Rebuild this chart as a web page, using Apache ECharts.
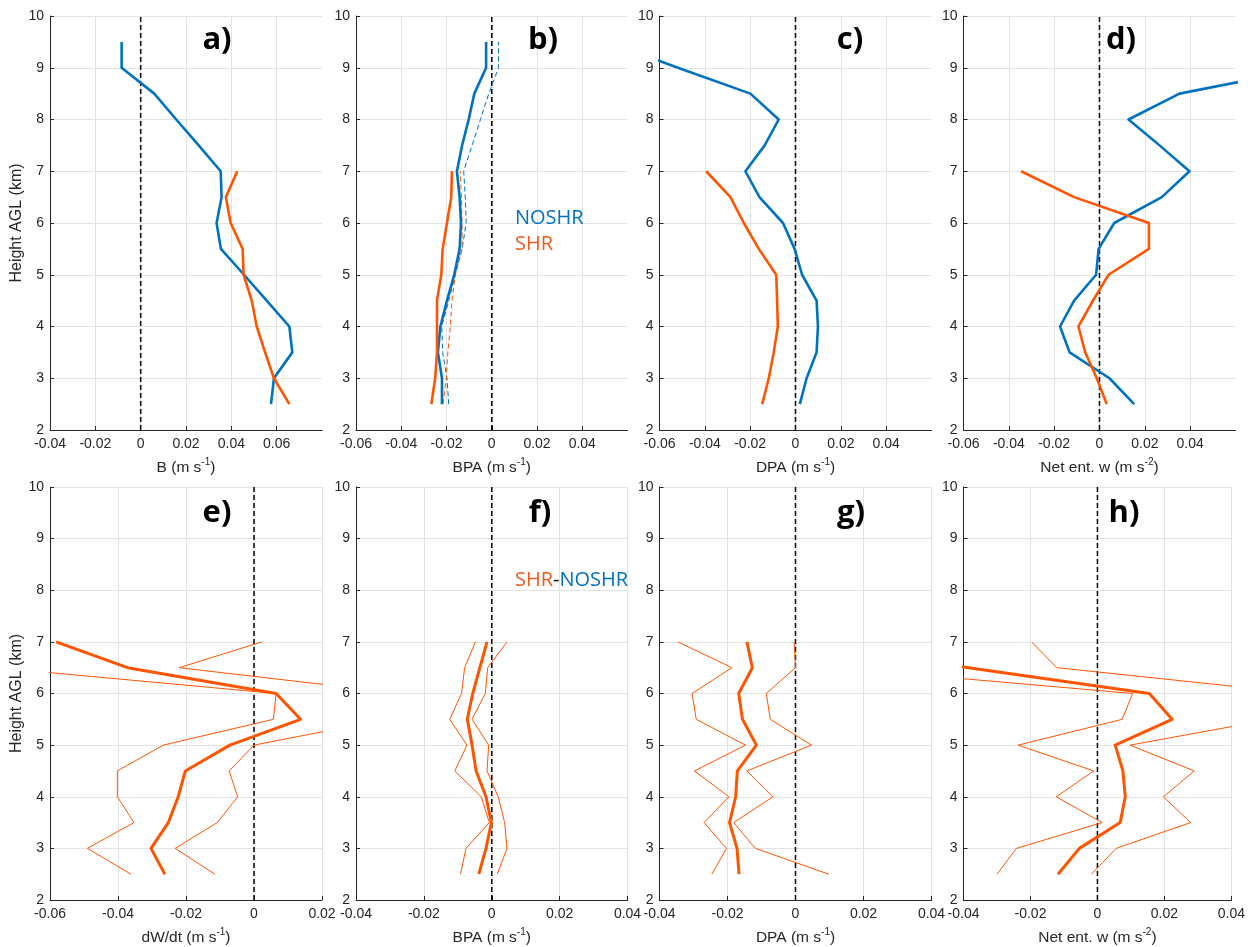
<!DOCTYPE html>
<html><head><meta charset="utf-8">
<script src="https://cdn.jsdelivr.net/npm/echarts@6/dist/echarts.min.js"></script>
<style>html,body{margin:0;padding:0;background:#fff}#c{width:1248px;height:947px}</style>
</head><body><div id="c"></div>
<script>
// Heights (km AGL), bottom to top
const heights = [2.5,3,3.5,4,4.5,5,5.5,6,6.5,7,7.5,8,8.5,9,9.5];
const yTicks = [2,3,4,5,6,7,8,9,10];

// a) Buoyancy B (m s-1)
const bNoshr = [0.0575,0.0588,0.0669,0.0656,0.0556,0.0456,0.0354,0.0335,0.0357,0.0353,0.0256,0.0157,0.006,-0.0084,-0.0084];
const bShr   = [0.0656,0.0588,0.0549,0.0512,0.049,0.0454,0.045,0.0397,0.0376,0.0426];
// b) BPA
const bpaNoshr     = [-0.022,-0.022,-0.0238,-0.0227,-0.0198,-0.0166,-0.0142,-0.0136,-0.0142,-0.0154,-0.0131,-0.0102,-0.0077,-0.0025,-0.0025];
const bpaNoshrDash = [-0.019,-0.0198,-0.0217,-0.0221,-0.019,-0.0161,-0.0131,-0.0113,-0.0117,-0.0124,-0.0087,-0.005,-0.0013,0.003,0.003];
const bpaShr       = [-0.0267,-0.025,-0.0242,-0.0242,-0.0242,-0.0223,-0.0217,-0.0198,-0.0179,-0.0176];
const bpaShrDash   = [-0.0216,-0.0201,-0.0194,-0.0183,-0.0176,-0.0161,-0.0131,-0.0131,-0.0134,-0.0139];
// c) DPA
const dpaNoshr = [0.0019,0.0049,0.0093,0.0099,0.0093,0.0029,-0.0004,-0.0055,-0.0159,-0.0221,-0.0136,-0.0074,-0.0199,-0.0519,-0.083];
const dpaShr   = [-0.0147,-0.0118,-0.0096,-0.0078,-0.0081,-0.0085,-0.0162,-0.0228,-0.0287,-0.0394];
// d) Net entrainment w
const netNoshr = [0.0153,0.0044,-0.0132,-0.0174,-0.0112,-0.0015,-0.0004,0.0065,0.0275,0.0397,0.0265,0.0128,0.0353,0.093,0.085];
const netShr   = [0.0032,-0.0012,-0.0063,-0.0093,-0.0029,0.004,0.0218,0.0218,-0.0112,-0.0346];
// e) dW/dt difference SHR-NOSHR (mean and bounds)
const dwMean  = [-0.0262,-0.0303,-0.0252,-0.0223,-0.0202,-0.0071,0.0137,0.0065,-0.0372,-0.0582];
const dwUpper = [-0.0115,-0.0232,-0.0108,-0.0048,-0.0073,0.0,0.0388,0.0433,-0.022,0.0023];
const dwLower = [-0.0362,-0.049,-0.0353,-0.0402,-0.0402,-0.0267,0.0057,0.0065,-0.0758,-0.1];
// f) BPA difference
const fMean  = [-0.0038,-0.0017,-0.0001,-0.0017,-0.0046,-0.0058,-0.0072,-0.0056,-0.0035,-0.0014];
const fLower = [-0.0092,-0.0076,-0.0007,-0.0031,-0.0109,-0.0073,-0.0124,-0.0089,-0.008,-0.0048];
const fUpper = [0.0016,0.0045,0.0038,0.0019,-0.0014,-0.0009,-0.0058,-0.0019,-0.0012,0.0045];
// g) DPA difference
const gMean  = [-0.0166,-0.0172,-0.0194,-0.0176,-0.0171,-0.0115,-0.0156,-0.0167,-0.0127,-0.0143];
const gLower = [-0.0246,-0.0203,-0.0269,-0.0196,-0.0297,-0.0147,-0.0292,-0.0304,-0.0187,-0.0346];
const gUpper = [0.0098,-0.0118,-0.0182,-0.0066,-0.0143,0.0047,-0.0074,-0.0086,0.0,-0.0004];
// h) Net ent. w difference
const hMean = [-0.0118,-0.0054,0.0068,0.0083,0.0076,0.0053,0.0223,0.0155,-0.0385,-0.09];
const hA    = [-0.0018,0.0056,0.0278,0.0197,0.0289,0.0097,0.052,0.061,-0.0121,-0.0197];
const hB    = [-0.030,-0.0242,0.0014,-0.0123,-0.0011,-0.0237,0.0074,0.0105,-0.0778,-0.09];

const panelLetters = ['a)','b)','c)','d)','e)','f)','g)','h)'];
const xNames = ['B','BPA','DPA','Net ent. w','dW/dt','BPA','DPA','Net ent. w'];
const xExps  = ['-1','-1','-1','-2','-1','-1','-1','-2'];

const BLUE = '#0072BD', ORANGE = '#FF5500', INK = '#262626', GRIDC = '#E3E3E3';
const FONT = '"Liberation Sans", Arial, Helvetica, sans-serif';

const colLeft = [50, 356, 659.5, 963.5];
const colWidth = [272, 271.5, 272, 272];
const rowTop = [16, 487];
const rowH = 414;

const xRanges = [[-0.04,0.08],[-0.06,0.06],[-0.06,0.06],[-0.06,0.06],
                 [-0.06,0.02],[-0.04,0.04],[-0.04,0.04],[-0.04,0.04]];
const hideMax = [true,true,true,true,false,false,false,false];

const labelPos = [[217,40],[543,40],[850,40],[1121,40],[217,513],[540,513],[851,513],[1124,513]];

function pairs(vals){ return vals.map((v,i)=>[v, heights[i]]); }

const grids=[], xAxes=[], yAxes=[], series=[], graphics=[];
for (let i=0;i<8;i++){
  const r = Math.floor(i/4), c = i%4;
  grids.push({left: colLeft[c], top: rowTop[r], width: colWidth[c], height: rowH});
  xAxes.push({
    type:'value', gridIndex:i, min:xRanges[i][0], max:xRanges[i][1], interval:0.02,
    name: '{n|'+xNames[i]+' (m s}{s|'+xExps[i]+'}{n|)}',
    nameLocation:'middle', nameGap: 27, nameMoveOverlap:false,
    nameTextStyle:{ rich:{
      n:{fontSize:15.5, color:INK, fontFamily:FONT, lineHeight:19, verticalAlign:'bottom'},
      s:{fontSize:10, color:INK, fontFamily:FONT, lineHeight:12, verticalAlign:'top'} } },
    axisLine:{show:true, onZero:false, lineStyle:{color:INK, width:1}},
    axisTick:{show:true, inside:true, length:4, lineStyle:{color:INK}},
    axisLabel:{color:INK, fontSize:14, fontFamily:FONT, margin:7, showMaxLabel: !hideMax[i], showMinLabel:true},
    splitLine:{show:true, showMaxLine: !hideMax[i], lineStyle:{color:GRIDC, width:1}}
  });
  yAxes.push({
    type:'value', gridIndex:i, min:2, max:10, interval:1,
    name: c===0 ? 'Height AGL (km)' : '',
    nameLocation:'middle', nameGap:25, nameRotate:90, nameMoveOverlap:false,
    nameTextStyle:{fontSize:16, color:INK, fontFamily:FONT},
    axisLine:{show:true, onZero:false, lineStyle:{color:INK, width:1}},
    axisTick:{show:true, inside:true, length:4, lineStyle:{color:INK}},
    axisLabel:{color:INK, fontSize:14, fontFamily:FONT, margin:6,
      formatter: v => yTicks.includes(v) ? String(v) : ''},
    splitLine:{show:true, lineStyle:{color:GRIDC, width:1}}
  });
  // zero reference line
  series.push({type:'line', xAxisIndex:i, yAxisIndex:i, data:[[0,2],[0,10]],
    symbol:'none', silent:true, z:1,
    lineStyle:{color:'#000', width:1.5, type:[5,3]}});
  graphics.push({type:'text', x:labelPos[i][0], y:labelPos[i][1], z:100,
    style:{text:panelLetters[i], font:'bold 31px "Open Sans", "DejaVu Sans", sans-serif',
      fill:'#000', textAlign:'center', textVerticalAlign:'middle'}});
}

function addLine(idx, vals, color, width, dashed){
  series.push({type:'line', xAxisIndex:idx, yAxisIndex:idx, data:pairs(vals),
    symbol:'none', silent:true, clip:true, z:2, animation:false,
    lineStyle:{color:color, width:width, type: dashed ? [5,3] : 'solid', join:'round'}});
}
// a
addLine(0, bNoshr, BLUE, 2.6);
addLine(0, bShr, ORANGE, 2.6);
// b
addLine(1, bpaNoshrDash, BLUE, 1, true);
addLine(1, bpaShrDash, ORANGE, 1, true);
addLine(1, bpaNoshr, BLUE, 2.6);
addLine(1, bpaShr, ORANGE, 2.6);
// c
addLine(2, dpaNoshr, BLUE, 2.6);
addLine(2, dpaShr, ORANGE, 2.6);
// d
addLine(3, netNoshr, BLUE, 2.6);
addLine(3, netShr, ORANGE, 2.6);
// e
addLine(4, dwUpper, ORANGE, 1);
addLine(4, dwLower, ORANGE, 1);
addLine(4, dwMean, ORANGE, 3);
// f
addLine(5, fUpper, ORANGE, 1);
addLine(5, fLower, ORANGE, 1);
addLine(5, fMean, ORANGE, 3);
// g
addLine(6, gUpper, ORANGE, 1);
addLine(6, gLower, ORANGE, 1);
addLine(6, gMean, ORANGE, 3);
// h
addLine(7, hA, ORANGE, 1);
addLine(7, hB, ORANGE, 1);
addLine(7, hMean, ORANGE, 3);

// in-plot legends
graphics.push({type:'text', x:515, y:218, z:100,
  style:{text:'NOSHR', font:'20px "Open Sans", sans-serif', fill:BLUE, textAlign:'left', textVerticalAlign:'middle'}});
graphics.push({type:'text', x:515, y:244, z:100,
  style:{text:'SHR', font:'20px "Open Sans", sans-serif', fill:'#F05A22', textAlign:'left', textVerticalAlign:'middle'}});
graphics.push({type:'text', x:515, y:580, z:100,
  style:{text:'{o|SHR}{k|-}{b|NOSHR}', font:'20px "Open Sans", sans-serif', textAlign:'left', textVerticalAlign:'middle',
    rich:{o:{fill:'#F05A22', font:'20px "Open Sans", sans-serif'}, k:{fill:'#000', font:'20px "Open Sans", sans-serif'}, b:{fill:BLUE, font:'20px "Open Sans", sans-serif'}}}});

const chart = echarts.init(document.getElementById('c'), null, {renderer:'canvas'});
chart.setOption({
  animation:false,
  backgroundColor:'#fff',
  grid:grids, xAxis:xAxes, yAxis:yAxes, series:series, graphic:graphics
});
</script></body></html>
